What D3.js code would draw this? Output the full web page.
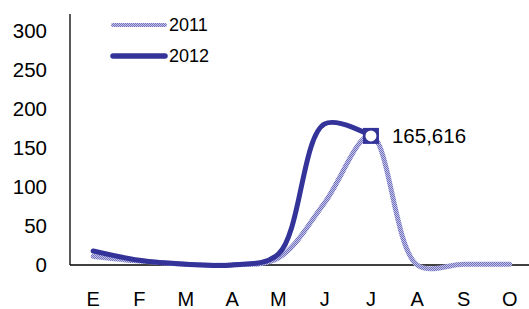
<!DOCTYPE html>
<html>
<head>
<meta charset="utf-8">
<script src="https://cdn.jsdelivr.net/npm/d3@7"></script>
<style>
  body { margin: 0; background: #fff; }
  svg { font-family: "Liberation Sans", Arial, sans-serif; }
</style>
</head>
<body>
<div id="chart"></div>
<script>
// Global vars
var months = ['E', 'F', 'M', 'A', 'M', 'J', 'J', 'A', 'S', 'O'];
var series2011 = [11, 5, 1, 0, 9, 80, 166, 0, 1, 1];
var series2012 = [18, 6, 1, 0, 14, 181, 165.616];
var yTicks = [0, 50, 100, 150, 200, 250, 300];
var seriesNames = ['2011', '2012'];
var peakLabel = '165,616';

var width = 529;
var height = 309;

var margins = { top: 14, right: -4, bottom: 43, left: 70 };

var svg = d3.select('#chart').append('svg')
    .attr('width', width)
    .attr('height', height);

// pattern for the 2011 line
var defs = svg.append('defs');
var pat = defs.append('pattern')
    .attr('id', 'dots')
    .attr('width', 2)
    .attr('height', 2)
    .attr('patternUnits', 'userSpaceOnUse');
pat.append('rect').attr('width', 2).attr('height', 2).attr('fill', '#c4c4ea');
pat.append('rect').attr('width', 1).attr('height', 1).attr('fill', '#7272bd');
pat.append('rect').attr('x', 1).attr('y', 1).attr('width', 1).attr('height', 1).attr('fill', '#7272bd');

var xScale = d3.scaleBand()
    .domain(d3.range(months.length))
    .range([margins.left, width - margins.right]);

var yScale = d3.scaleLinear()
    .domain([0, 322])
    .range([265, margins.top]);

var xPos = function(i) { return xScale(i) + xScale.bandwidth() / 2; };

// axes
svg.append('line')
    .attr('x1', margins.left).attr('x2', margins.left)
    .attr('y1', yScale(322)).attr('y2', yScale(0))
    .attr('stroke', '#000').attr('stroke-width', 1.3);

svg.append('line')
    .attr('x1', margins.left).attr('x2', width)
    .attr('y1', yScale(0)).attr('y2', yScale(0))
    .attr('stroke', '#000').attr('stroke-width', 1.3);

svg.selectAll('text.ytick')
    .data(yTicks)
    .enter().append('text')
    .attr('class', 'ytick')
    .attr('x', 47)
    .attr('y', function(d) { return yScale(d); })
    .attr('dy', '0.35em')
    .attr('text-anchor', 'end')
    .attr('font-size', 20.5)
    .text(function(d) { return d; });

svg.selectAll('text.xtick')
    .data(months)
    .enter().append('text')
    .attr('class', 'xtick')
    .attr('x', function(d, i) { return xPos(i); })
    .attr('y', 306)
    .attr('text-anchor', 'middle')
    .attr('font-size', 20)
    .text(function(d) { return d; });

var line = d3.line()
    .x(function(d, i) { return xPos(i); })
    .y(function(d) { return yScale(d); })
    .curve(d3.curveCatmullRom.alpha(0.5));

svg.append('path')
    .datum(series2011)
    .attr('d', line)
    .attr('fill', 'none')
    .attr('stroke', 'url(#dots)')
    .attr('stroke-width', 5)
    .attr('stroke-linecap', 'round');

svg.append('path')
    .datum(series2012)
    .attr('d', line)
    .attr('fill', 'none')
    .attr('stroke', '#333399')
    .attr('stroke-width', 5)
    .attr('stroke-linecap', 'round');

// marker on the last 2012 point
var last = series2012.length - 1;
var mx = xPos(last), my = yScale(series2012[last]);
svg.append('rect')
    .attr('x', mx - 8).attr('y', my - 8)
    .attr('width', 16).attr('height', 16)
    .attr('fill', '#333399');
svg.append('circle')
    .attr('cx', mx).attr('cy', my)
    .attr('r', 5.5)
    .attr('fill', '#fff');

svg.append('text')
    .attr('x', mx + 21)
    .attr('y', my)
    .attr('dy', '0.35em')
    .attr('font-size', 20.5)
    .text(peakLabel);

// legend
var legend = svg.selectAll('g.legend')
    .data(seriesNames)
    .enter().append('g')
    .attr('class', 'legend')
    .attr('transform', function(d, i) { return 'translate(113,' + (25 + i * 31) + ')'; });

legend.append('line')
    .attr('x1', 0).attr('x2', 52)
    .attr('stroke', function(d, i) { return i === 0 ? 'url(#dots)' : '#333399'; })
    .attr('stroke-width', function(d, i) { return i === 0 ? 4 : 5.5; })
    .attr('stroke-linecap', 'round');

legend.append('text')
    .attr('x', 56)
    .attr('dy', '0.35em')
    .attr('font-size', 18)
    .text(function(d) { return d; });
</script>
</body>
</html>
